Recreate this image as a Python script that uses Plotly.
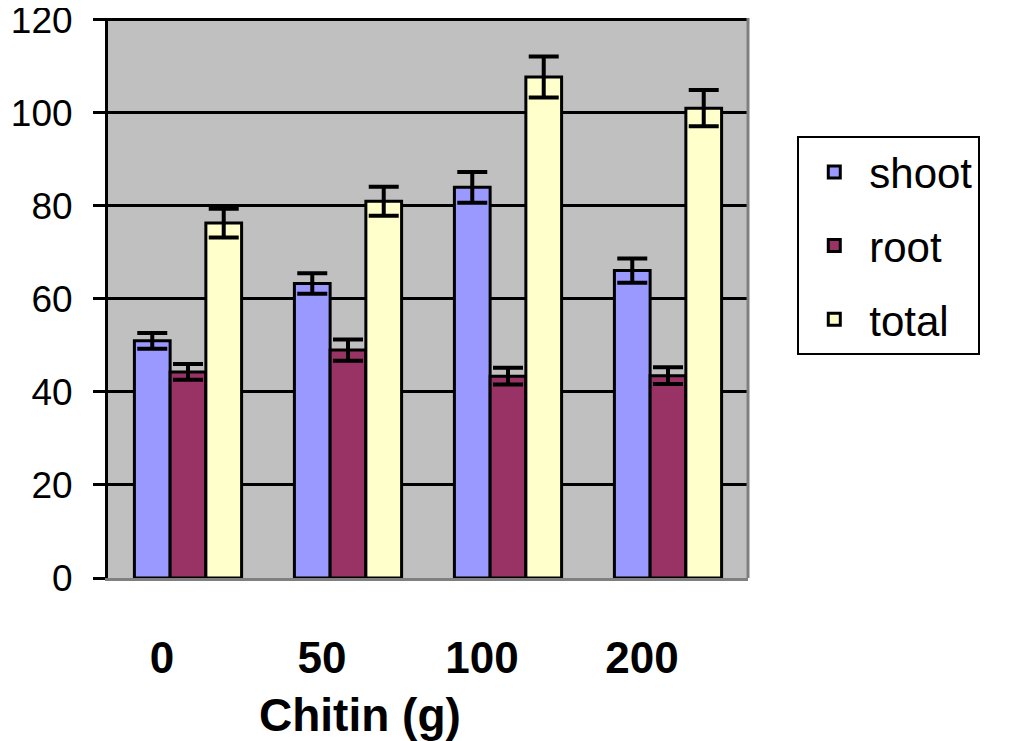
import plotly.graph_objects as go

categories = ["0", "50", "100", "200"]
shoot = [51.0, 63.3, 84.0, 66.1]
shoot_err = [1.7, 2.2, 3.3, 2.6]
root = [44.3, 49.0, 43.4, 43.5]
root_err = [1.7, 2.3, 1.8, 1.8]
total = [76.3, 81.0, 107.7, 101.0]
total_err = [3.1, 3.1, 4.4, 3.9]
y_ticks = [0, 20, 40, 60, 80, 100, 120]
x_title = "Chitin (g)"

# styling (not data)
colors = {"shoot": "#9999FF", "root": "#993366", "total": "#FFFFCC"}
FONT = "Liberation Sans, Arial, sans-serif"

fig = go.Figure()
for name, vals, errs in [("shoot", shoot, shoot_err), ("root", root, root_err), ("total", total, total_err)]:
    fig.add_trace(go.Bar(
        name=name, x=categories, y=vals,
        marker=dict(color=colors[name], line=dict(color="black", width=3)),
        error_y=dict(type="data", array=errs, visible=True, color="black", thickness=4, width=15),
        legendgroup=name,
    ))

fig.update_layout(
    width=1024, height=741,
    margin=dict(l=100, r=284, t=10, b=171, autoexpand=False),
    paper_bgcolor="white", plot_bgcolor="#C0C0C0",
    barmode="group", bargap=0.33, bargroupgap=0,
    font=dict(family=FONT, color="black"),
    showlegend=True,
    legend=dict(x=1.077, y=0.789, xanchor="left", yanchor="top",
                bgcolor="white", bordercolor="black", borderwidth=2,
                font=dict(family=FONT, size=42, color="black"),
                tracegroupgap=16, itemwidth=60),
    xaxis=dict(type="category", range=[-0.5, 3.5], showgrid=False, showline=True,
               linecolor="#808080", linewidth=3, automargin=False,
               ticks="", ticklabelshift=-26, ticklabelstandoff=39,
               tickfont=dict(family=FONT, size=44, color="black", weight="bold")),
    yaxis=dict(range=[0, 120.4], tickvals=y_ticks, ticks="outside", ticklen=12, tickwidth=3,
               tickcolor="black", showline=True, linecolor="black", linewidth=3,
               showgrid=True, gridcolor="black", gridwidth=3, automargin=False,
               zeroline=False, ticklabelstandoff=13, ticklabeloverflow="allow",
               tickfont=dict(family=FONT, size=37, color="black")),
    annotations=[dict(x=0.394, xref="paper", y=-0.245, yref="paper", text=x_title, showarrow=False,
                      yanchor="middle", xanchor="center",
                      font=dict(family=FONT, size=46, color="black", weight="bold"))],
    shapes=[dict(type="line", xref="paper", yref="paper", x0=1, x1=1, y0=0, y1=1,
                 line=dict(color="#808080", width=3))],
)

fig.write_html("out.html")
